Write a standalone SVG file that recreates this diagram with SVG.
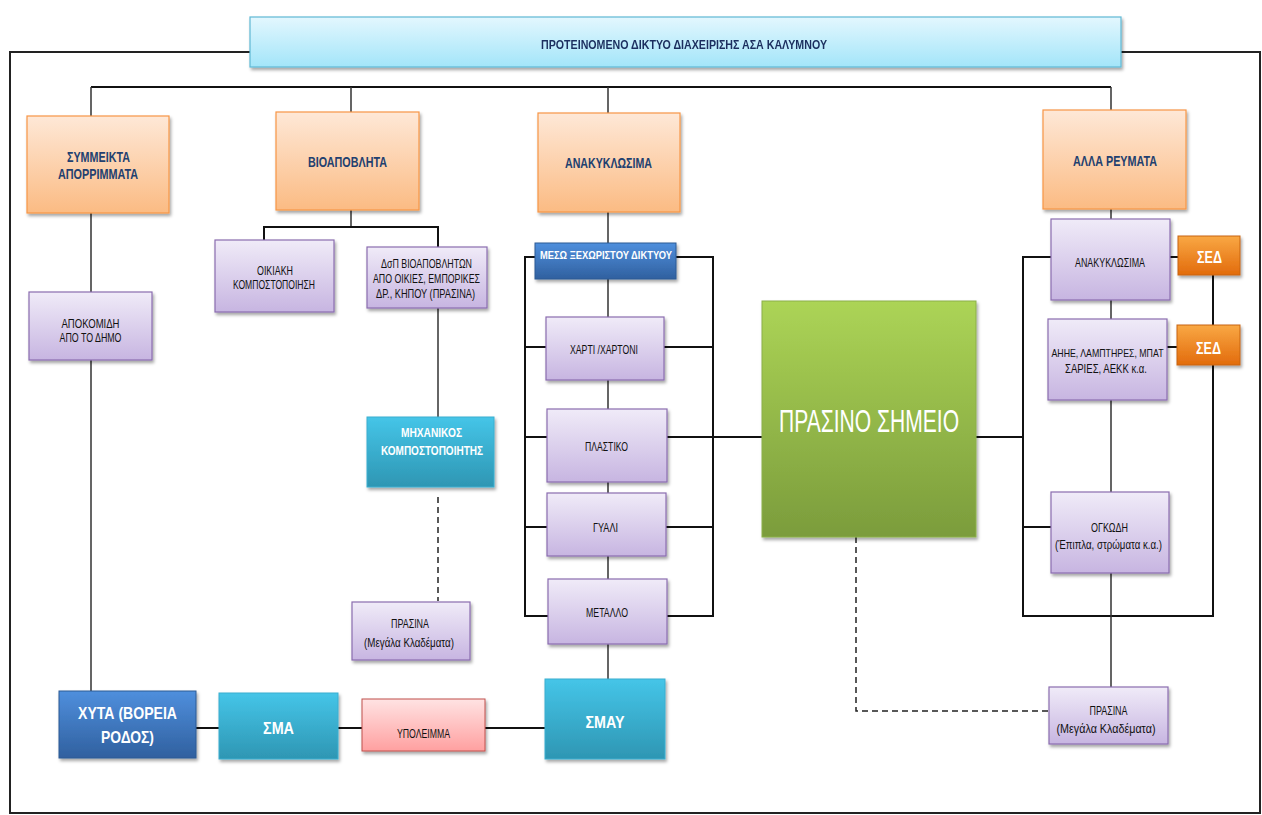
<svg xmlns="http://www.w3.org/2000/svg" width="1262" height="815" viewBox="0 0 1262 815">
<defs>
<linearGradient id="gTitle" x1="0" y1="0" x2="0" y2="1"><stop offset="0" stop-color="#e3f7fe"/><stop offset="1" stop-color="#a3e5f9"/></linearGradient>
<linearGradient id="gOrange" x1="0" y1="0" x2="0" y2="1"><stop offset="0" stop-color="#fee8d7"/><stop offset="1" stop-color="#fbbb83"/></linearGradient>
<linearGradient id="gPurple" x1="0" y1="0" x2="0" y2="1"><stop offset="0" stop-color="#f0ebf8"/><stop offset="1" stop-color="#c7b5e1"/></linearGradient>
<linearGradient id="gBlue" x1="0" y1="0" x2="0" y2="1"><stop offset="0" stop-color="#4f8fdd"/><stop offset="1" stop-color="#30609f"/></linearGradient>
<linearGradient id="gTeal" x1="0" y1="0" x2="0" y2="1"><stop offset="0" stop-color="#45c5e8"/><stop offset="1" stop-color="#2e96b3"/></linearGradient>
<linearGradient id="gRed" x1="0" y1="0" x2="0" y2="1"><stop offset="0" stop-color="#ffe3e3"/><stop offset="1" stop-color="#ffa0a0"/></linearGradient>
<linearGradient id="gSed" x1="0" y1="0" x2="0" y2="1"><stop offset="0" stop-color="#f9a844"/><stop offset="1" stop-color="#e26b0c"/></linearGradient>
<linearGradient id="gGreen" x1="0" y1="0" x2="0" y2="1"><stop offset="0" stop-color="#acd456"/><stop offset="1" stop-color="#7b9c3c"/></linearGradient>
<filter id="sh" x="-10%" y="-10%" width="125%" height="130%"><feDropShadow dx="1.5" dy="2.5" stdDeviation="1.5" flood-color="#000" flood-opacity="0.35"/></filter>
</defs>
<style>
text{font-family:"Liberation Sans Narrow","Liberation Sans",Arial,sans-serif;text-anchor:middle}
.hdr{font-size:14px;font-weight:bold;fill:#22406f}
.sm{font-size:12px;fill:#111111}
.wh{fill:#ffffff;font-weight:bold}
.ln{stroke:#111;stroke-width:2;fill:none}
.thin{stroke:#333;stroke-width:1.5;fill:none}
.dash{stroke:#222;stroke-width:1.5;fill:none;stroke-dasharray:6 4}
.box{filter:url(#sh)}
.or{fill:url(#gOrange);stroke:#f79646;stroke-width:1.2}
.pu{fill:url(#gPurple);stroke:#8a6db0;stroke-width:1.2}
.bl{fill:url(#gBlue);stroke:#2c5a94;stroke-width:1}
.te{fill:url(#gTeal);stroke:#3aaed0;stroke-width:1}
.rd{fill:url(#gRed);stroke:#c0504d;stroke-width:1}
.se{fill:url(#gSed);stroke:#c8640e;stroke-width:1}
.gr{fill:url(#gGreen);stroke:#8cb04a;stroke-width:1}
</style>
<rect x="0" y="0" width="1262" height="815" fill="#ffffff"/>
<rect x="10" y="52" width="1250" height="761" fill="none" stroke="#222" stroke-width="2"/>
<g id="connectors">
<path class="ln" d="M91 87H1111"/>
<path class="thin" d="M91 87V116M351 87V112M608 87V113M1111 87V110"/>
<path class="thin" d="M91 213V292M91 360V691"/>
<path class="thin" d="M351 210V227"/>
<path class="ln" d="M264 240V227H438V247"/>
<path class="thin" d="M438 308V417"/>
<path class="dash" d="M438 497V601"/>
<path class="thin" d="M608 212V243M608 279V317M608 380V409M608 482V493M608 556V579M608 644V680"/>
<path class="ln" d="M535 257H525V616H548M525 347H546M525 437H547M525 527H547"/>
<path class="ln" d="M676 257H713V616H667M664 347H713M667 437H762M666 527H713"/>
<path class="ln" d="M976 437H1023M1051 257H1023V616H1213V365M1213 325V275M1023 527H1051"/>
<path class="ln" d="M1170 257H1178M1167 347H1177"/>
<path class="thin" d="M1111 209V219M1111 300V319M1111 400V492M1111 573V687"/>
<path class="dash" d="M856 537V711H1049"/>
<path class="ln" d="M196 728H219M338 728H362M485 728H545"/>
</g>
<g id="title" class="box"><rect x="250" y="17" width="871" height="50" fill="url(#gTitle)" stroke="#5fb8d4" stroke-width="1.2"/>
<text x="684" y="48.5" style="font-size:12.5px;font-weight:bold;fill:#1b2f5e" textLength="286" lengthAdjust="spacingAndGlyphs">ΠΡΟΤΕΙΝΟΜΕΝΟ ΔΙΚΤΥΟ ΔΙΑΧΕΙΡΙΣΗΣ ΑΣΑ ΚΑΛΥΜΝΟΥ</text></g>
<g id="symmeikta"><rect class="box or" x="27" y="116" width="142" height="97"/>
<text class="hdr" x="98.5" y="162" textLength="63" lengthAdjust="spacingAndGlyphs">ΣΥΜΜΕΙΚΤΑ</text>
<text class="hdr" x="98" y="179" textLength="80" lengthAdjust="spacingAndGlyphs">ΑΠΟΡΡΙΜΜΑΤΑ</text></g>
<g id="bioapovlita"><rect class="box or" x="276" y="112" width="143" height="98"/>
<text class="hdr" x="347.5" y="167" textLength="79" lengthAdjust="spacingAndGlyphs">ΒΙΟΑΠΟΒΛΗΤΑ</text></g>
<g id="anakyklosima"><rect class="box or" x="538" y="113" width="142" height="99"/>
<text class="hdr" x="608.5" y="168" textLength="87" lengthAdjust="spacingAndGlyphs">ΑΝΑΚΥΚΛΩΣΙΜΑ</text></g>
<g id="alla-reymata"><rect class="box or" x="1043" y="110" width="143" height="99"/>
<text class="hdr" x="1115" y="166" textLength="84" lengthAdjust="spacingAndGlyphs">ΑΛΛΑ ΡΕΥΜΑΤΑ</text></g>
<g id="apokomidi"><rect class="box pu" x="29" y="292" width="123" height="68"/>
<text class="sm" x="90.5" y="327.5" textLength="58" lengthAdjust="spacingAndGlyphs">ΑΠΟΚΟΜΙΔΗ</text>
<text class="sm" x="90.5" y="341.5" textLength="62" lengthAdjust="spacingAndGlyphs">ΑΠΟ ΤΟ ΔΗΜΟ</text></g>
<g id="oikiaki"><rect class="box pu" x="215" y="240" width="119" height="72"/>
<text class="sm" x="275" y="274.5" textLength="36" lengthAdjust="spacingAndGlyphs">ΟΙΚΙΑΚΗ</text>
<text class="sm" x="274" y="288.5" textLength="82" lengthAdjust="spacingAndGlyphs">ΚΟΜΠΟΣΤΟΠΟΙΗΣΗ</text></g>
<g id="dsp"><rect class="box pu" x="367" y="247" width="120" height="61"/>
<text class="sm" x="426.5" y="267.5" textLength="91" lengthAdjust="spacingAndGlyphs">ΔσΠ ΒΙΟΑΠΟΒΛΗΤΩΝ</text>
<text class="sm" x="426.5" y="282.5" textLength="107" lengthAdjust="spacingAndGlyphs">ΑΠΟ ΟΙΚΙΕΣ, ΕΜΠΟΡΙΚΕΣ</text>
<text class="sm" x="425.5" y="297.5" textLength="99" lengthAdjust="spacingAndGlyphs">ΔΡ., ΚΗΠΟΥ (ΠΡΑΣΙΝΑ)</text></g>
<g id="mixanikos"><rect class="box te" x="367" y="417" width="127" height="70"/>
<text class="wh" x="431.5" y="436.5" style="font-size:12.5px" textLength="61" lengthAdjust="spacingAndGlyphs">ΜΗΧΑΝΙΚΟΣ</text>
<text class="wh" x="432" y="454.5" style="font-size:12.5px" textLength="102" lengthAdjust="spacingAndGlyphs">ΚΟΜΠΟΣΤΟΠΟΙΗΤΗΣ</text></g>
<g id="prasina-left"><rect class="box pu" x="352" y="602" width="118" height="58"/>
<text class="sm" x="410" y="627.5" textLength="38" lengthAdjust="spacingAndGlyphs">ΠΡΑΣΙΝΑ</text>
<text class="sm" x="409" y="646.5" textLength="90" lengthAdjust="spacingAndGlyphs">(Μεγάλα Κλαδέματα)</text></g>
<g id="meso"><rect class="box bl" x="535" y="243" width="141" height="36"/>
<text class="wh" x="606" y="259" style="font-size:11px" textLength="132" lengthAdjust="spacingAndGlyphs">ΜΕΣΩ ΞΕΧΩΡΙΣΤΟΥ ΔΙΚΤΥΟΥ</text></g>
<g id="xarti"><rect class="box pu" x="546" y="317" width="118" height="63"/>
<text class="sm" x="604" y="353.5" textLength="68" lengthAdjust="spacingAndGlyphs">ΧΑΡΤΙ /ΧΑΡΤΟΝΙ</text></g>
<g id="plastiko"><rect class="box pu" x="547" y="409" width="120" height="73"/>
<text class="sm" x="606.5" y="450.5" textLength="43" lengthAdjust="spacingAndGlyphs">ΠΛΑΣΤΙΚΟ</text></g>
<g id="gyali"><rect class="box pu" x="547" y="493" width="119" height="63"/>
<text class="sm" x="605.5" y="531.5" textLength="25" lengthAdjust="spacingAndGlyphs">ΓΥΑΛΙ</text></g>
<g id="metallo"><rect class="box pu" x="548" y="579" width="119" height="65"/>
<text class="sm" x="607" y="616.5" textLength="42" lengthAdjust="spacingAndGlyphs">ΜΕΤΑΛΛΟ</text></g>
<g id="prasino-simeio"><rect class="box gr" x="762" y="301" width="214" height="236"/>
<text x="869" y="431.5" style="font-size:32px;fill:#ffffff" textLength="180" lengthAdjust="spacingAndGlyphs">ΠΡΑΣΙΝΟ ΣΗΜΕΙΟ</text></g>
<g id="anakyklosima-r"><rect class="box pu" x="1051" y="219" width="119" height="81"/>
<text class="sm" x="1110" y="266.5" textLength="70" lengthAdjust="spacingAndGlyphs">ΑΝΑΚΥΚΛΩΣΙΜΑ</text></g>
<g id="sed1"><rect class="box se" x="1178" y="236" width="62" height="39"/>
<text class="wh" x="1209.5" y="263" style="font-size:16px" textLength="25" lengthAdjust="spacingAndGlyphs">ΣΕΔ</text></g>
<g id="alhe"><rect class="box pu" x="1048" y="319" width="119" height="81"/>
<text class="sm" x="1107.5" y="357" style="font-size:11.5px" textLength="112" lengthAdjust="spacingAndGlyphs">ΑΗΗΕ, ΛΑΜΠΤΗΡΕΣ, ΜΠΑΤ</text>
<text class="sm" x="1106" y="372.5" textLength="82" lengthAdjust="spacingAndGlyphs">ΣΑΡΙΕΣ, ΑΕΚΚ κ.α.</text></g>
<g id="sed2"><rect class="box se" x="1177" y="325" width="63" height="40"/>
<text class="wh" x="1208.5" y="353.5" style="font-size:16px" textLength="25" lengthAdjust="spacingAndGlyphs">ΣΕΔ</text></g>
<g id="ogkodi"><rect class="box pu" x="1051" y="492" width="118" height="81"/>
<text class="sm" x="1109.5" y="531.5" textLength="37" lengthAdjust="spacingAndGlyphs">ΟΓΚΩΔΗ</text>
<text class="sm" x="1108.5" y="548.5" textLength="107" lengthAdjust="spacingAndGlyphs">(Έπιπλα, στρώματα κ.α.)</text></g>
<g id="prasina-right"><rect class="box pu" x="1049" y="687" width="119" height="57"/>
<text class="sm" x="1108.5" y="714.5" textLength="38" lengthAdjust="spacingAndGlyphs">ΠΡΑΣΙΝΑ</text>
<text class="sm" x="1106" y="732.5" textLength="99" lengthAdjust="spacingAndGlyphs">(Μεγάλα Κλαδέματα)</text></g>
<g id="xyta"><rect class="box bl" x="59" y="691" width="137" height="67"/>
<text class="wh" x="127.5" y="719" style="font-size:17px" textLength="99" lengthAdjust="spacingAndGlyphs">ΧΥΤΑ (ΒΟΡΕΙΑ</text>
<text class="wh" x="127.5" y="743" style="font-size:17px" textLength="53" lengthAdjust="spacingAndGlyphs">ΡΟΔΟΣ)</text></g>
<g id="sma"><rect class="box te" x="219" y="693" width="119" height="66"/>
<text class="wh" x="278.5" y="734" style="font-size:17px" textLength="31" lengthAdjust="spacingAndGlyphs">ΣΜΑ</text></g>
<g id="ypoleimma"><rect class="box rd" x="362" y="699" width="123" height="52"/>
<text class="sm" x="423.5" y="737.5" textLength="53" lengthAdjust="spacingAndGlyphs">ΥΠΟΛΕΙΜΜΑ</text></g>
<g id="smay"><rect class="box te" x="545" y="679" width="120" height="80"/>
<text class="wh" x="605" y="728" style="font-size:17px" textLength="39" lengthAdjust="spacingAndGlyphs">ΣΜΑΥ</text></g>
</svg>
